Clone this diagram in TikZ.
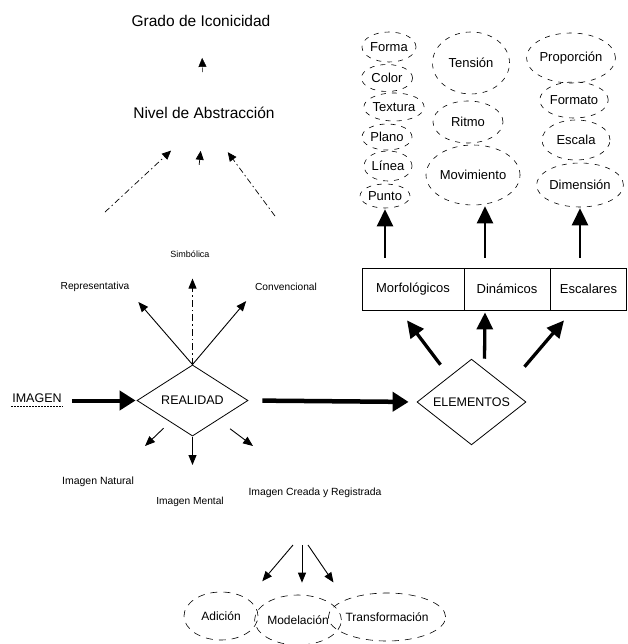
\documentclass[tikz,border=0pt]{standalone}
\usepackage{fontspec}
\setmainfont{Liberation Sans}
\usetikzlibrary{arrows.meta,shapes.geometric}

\begin{document}
\begin{tikzpicture}[x=1pt,y=-1pt,
  every node/.style={inner sep=1pt},
  title/.style={font=\fontsize{15.5}{17}\selectfont},
  lbl/.style={font=\fontsize{10.2}{12}\selectfont},
  oval/.style={ellipse, draw, line width=0.6pt, dash pattern=on 5pt off 6pt,
    inner sep=0pt, font=\fontsize{13}{15}\selectfont},
  lowoval/.style={oval, dash pattern=on 7pt off 6pt, font=\fontsize{12}{14}\selectfont},
  rhombus/.style={diamond, draw, line width=0.8pt, inner sep=0pt,
    font=\fontsize{12.5}{14}\selectfont},
  cell/.style={draw, line width=0.8pt, minimum height=42pt, inner sep=0pt,
    font=\fontsize{13}{15}\selectfont},
  thinarrow/.style={-{Triangle[length=10pt,width=8pt]}, line width=0.9pt},
  dasharrow/.style={-{Triangle[length=9pt,width=8pt]}, line width=0.7pt,
    dash pattern=on 6pt off 3pt on 1.5pt off 3pt},
  boldarrow/.style={-{Triangle[length=17pt,width=16pt]}, line width=2.6pt},
  heavyarrow/.style={-{Triangle[length=16pt,width=19pt]}, line width=4.5pt}
]
  \useasboundingbox (0,0) rectangle (627,644);

  % abstraction levels
  \node[title] (grado) at (201,21) {Grado de Iconicidad};
  \node[title] (nivel) at (204,113) {Nivel de Abstracción};
  \draw[-{Triangle[length=9pt,width=8pt]}, shorten <=34pt, shorten >=30pt]
    (nivel.north) -- (grado.south);

  \node[lbl] (repre) at (95,287) {Representativa};
  \node[lbl, font=\fontsize{9}{11}\selectfont] (simb) at (190,254) {Simbólica};
  \node[lbl] (conv) at (286,287) {Convencional};

  \draw[dasharrow, shorten >=45pt] ([shift={(10,-69)}]repre.north) -- (nivel.south);
  \draw[dasharrow, shorten >=40pt] ([shift={(-11,-66)}]conv.north) -- (nivel.south);
  \draw[dasharrow, shorten <=85pt, shorten >=31pt] (simb.north) -- (nivel.south);

  % reality
  \node[font=\fontsize{12.5}{14}\selectfont] (imagen) at (37,398) {IMAGEN};
  \draw[line width=0.4pt, dash pattern=on 2pt off 1pt]
    ([yshift=-3pt]imagen.south west) -- ([yshift=-3pt]imagen.south east);
  \node[rhombus, minimum width=111pt, minimum height=51pt] (realidad) at (192.5,400.5) {REALIDAD};
  \draw[heavyarrow, line width=4pt, shorten <=9pt, shorten >=1pt]
    (imagen.east |- realidad.west) -- (realidad.west);

  \draw[thinarrow, shorten >=12pt] (realidad.north) -- (repre.south east);
  \draw[thinarrow, shorten >=12pt] (realidad.north) -- (conv.south west);
  \draw[thinarrow, dash pattern=on 7pt off 3pt on 1.5pt off 3pt, shorten >=20pt]
    (realidad.north) -- (realidad.north |- simb.south);

  % kinds of image
  \node[lbl, font=\fontsize{10.5}{12}\selectfont] (natural) at (98,482) {Imagen Natural};
  \node[lbl] (mental) at (190,502) {Imagen Mental};
  \node[lbl, font=\fontsize{10.4}{12}\selectfont] (creada) at (315,493) {Imagen Creada y Registrada};
  \coordinate (natTip) at (145,446);
  \coordinate (menTip) at (192.5,465);
  \coordinate (creTip) at (253,446);
  \draw[thinarrow, shorten <=40pt] (realidad.center) -- (natTip);
  \draw[thinarrow, shorten <=36pt] (realidad.center) -- (menTip);
  \draw[thinarrow, shorten <=47pt] (realidad.center) -- (creTip);

  \node[lowoval, minimum width=74pt, minimum height=48pt] (adic) at (221,616) {Adición};
  \node[lowoval, minimum width=76pt, minimum height=50pt] (mode) at (298,620) {Modelación};
  \node[lowoval, minimum width=104pt, minimum height=48pt] (trans) at (387,617) {Transformación};
  \coordinate (fork) at (302,545);
  \draw[thinarrow, shorten >=23pt] ([xshift=-9pt]fork) -- (adic.north east);
  \draw[thinarrow, shorten >=12pt] (fork) -- (fork |- mode.north);
  \draw[thinarrow, shorten >=21pt] ([xshift=6pt]fork) -- (trans.north west);

  % elements
  \node[rhombus, minimum width=109pt, minimum height=70pt] (elem) at (471.5,402) {ELEMENTOS};
  \draw[heavyarrow, shorten <=14pt, shorten >=8pt] (realidad.east) -- (elem.west);

  \node[cell, minimum width=102pt] (morf) at (413,289) {Morfológicos};
  \node[cell, minimum width=86pt] (dina) at (507,289) {Dinámicos};
  \node[cell, minimum width=76pt] (esca) at (588.5,289) {Escalares};

  \draw[boldarrow, line width=3.3pt] ([shift={(-31,6)}]elem.north) -- ([shift={(-6,10)}]morf.south);
  \draw[boldarrow, line width=3.3pt] ([shift={(13,0)}]elem.north) -- ([shift={(-22,2)}]dina.south);
  \draw[boldarrow, line width=3.3pt] ([shift={(53,8)}]elem.north) -- ([shift={(-24.5,10)}]esca.south);

  % morphological
  \node[oval, minimum width=54pt, minimum height=30pt] (forma) at (389,47) {Forma};
  \node[oval, minimum width=51pt, minimum height=27pt] (color) at (387,78) {Color};
  \node[oval, minimum width=54pt, minimum height=28pt] (textura) at (394,107) {Textura};
  \node[oval, minimum width=50pt, minimum height=26pt] (plano) at (387,137) {Plano};
  \node[oval, minimum width=48pt, minimum height=30pt] (linea) at (388,166) {Línea};
  \node[oval, minimum width=50pt, minimum height=24pt] (punto) at (385,196) {Punto};

  % dynamic
  \node[oval, minimum width=77pt, minimum height=62pt] (tension) at (471,63) {Tensión};
  \node[oval, minimum width=70pt, minimum height=42pt] (ritmo) at (468,122) {Ritmo};
  \node[oval, minimum width=82pt, minimum height=60pt] (movim) at (473,175) {Movimiento};

  % scalar
  \node[oval, minimum width=82pt, minimum height=50pt] (propor) at (571,58) {Proporción};
  \node[oval, minimum width=62pt, minimum height=36pt] (formato) at (574,100) {Formato};
  \node[oval, minimum width=68pt, minimum height=40pt] (escala) at (576,140) {Escala};
  \node[oval, minimum width=74pt, minimum height=44pt] (dimen) at (580,185) {Dimensión};

  \draw[boldarrow, shorten >=1pt] ([shift={(-28,-10)}]morf.north) -- (punto.south);
  \draw[boldarrow, shorten >=1pt] ([shift={(-22,-10)}]dina.north) -- ([xshift=12pt]movim.south);
  \draw[boldarrow, shorten >=1pt] ([shift={(-8.5,-10)}]esca.north) -- (dimen.south);
\end{tikzpicture}
\end{document}
